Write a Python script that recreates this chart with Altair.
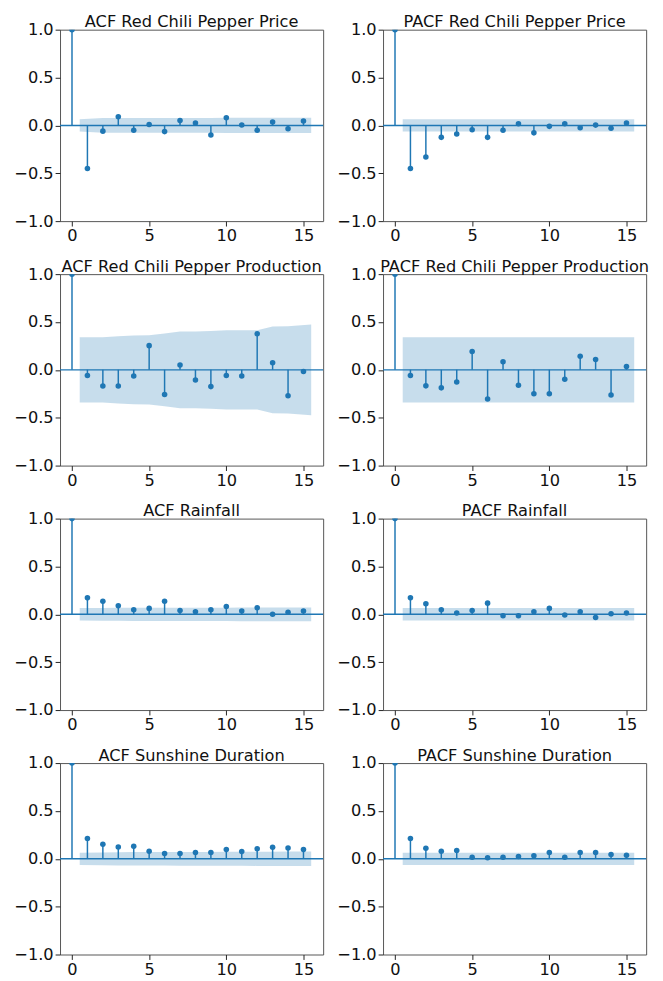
import altair as alt
import pandas as pd

LAGS = list(range(0, 16))
BAND_X = [0.5] + list(range(2, 15)) + [15.5]

TITLES = [
    "ACF Red Chili Pepper Price", "PACF Red Chili Pepper Price",
    "ACF Red Chili Pepper Production", "PACF Red Chili Pepper Production",
    "ACF Rainfall", "PACF Rainfall",
    "ACF Sunshine Duration", "PACF Sunshine Duration",
]

acf_price = [1.0, -0.45, -0.06, 0.09, -0.05, 0.01, -0.065, 0.05, 0.025, -0.10, 0.08, 0.005, -0.05, 0.035, -0.035, 0.045]
acf_price_band = [0.065, 0.077, 0.077, 0.078, 0.078, 0.078, 0.078, 0.078, 0.078, 0.079, 0.079, 0.079, 0.079, 0.079, 0.079]
pacf_price = [1.0, -0.45, -0.33, -0.125, -0.09, -0.045, -0.125, -0.05, 0.017, -0.078, -0.01, 0.017, -0.024, 0.003, -0.03, 0.024]
pacf_price_band = [0.065] * 15

acf_prod = [1.0, -0.058, -0.168, -0.168, -0.065, 0.253, -0.257, 0.051, -0.106, -0.175, -0.058, -0.065, 0.377, 0.075, -0.27, -0.017]
acf_prod_band = [0.34, 0.341, 0.351, 0.36, 0.361, 0.381, 0.401, 0.401, 0.405, 0.413, 0.414, 0.415, 0.453, 0.455, 0.473]
pacf_prod = [1.0, -0.058, -0.167, -0.188, -0.126, 0.191, -0.304, 0.085, -0.16, -0.249, -0.249, -0.099, 0.143, 0.109, -0.263, 0.034]
pacf_prod_band = [0.34] * 15

acf_rain = [1.0, 0.172, 0.137, 0.089, 0.048, 0.062, 0.137, 0.041, 0.027, 0.048, 0.082, 0.034, 0.069, 0.0, 0.021, 0.034]
acf_rain_band = [0.065, 0.067, 0.068, 0.0686, 0.0688, 0.069, 0.070, 0.070, 0.070, 0.070, 0.071, 0.071, 0.071, 0.071, 0.071]
pacf_rain = [1.0, 0.172, 0.11, 0.048, 0.014, 0.041, 0.117, -0.014, -0.014, 0.027, 0.062, -0.007, 0.027, -0.034, 0.007, 0.014]
pacf_rain_band = [0.065] * 15

acf_sun = [1.0, 0.212, 0.151, 0.123, 0.13, 0.079, 0.055, 0.055, 0.065, 0.065, 0.096, 0.075, 0.106, 0.12, 0.113, 0.096]
acf_sun_band = [0.064, 0.067, 0.069, 0.070, 0.071, 0.071, 0.072, 0.072, 0.072, 0.073, 0.073, 0.074, 0.074, 0.075, 0.076]
pacf_sun = [1.0, 0.212, 0.11, 0.079, 0.086, 0.017, 0.01, 0.017, 0.024, 0.031, 0.065, 0.017, 0.065, 0.065, 0.045, 0.038]
pacf_sun_band = [0.064] * 15

SERIES = [
    (acf_price, acf_price_band), (pacf_price, pacf_price_band),
    (acf_prod, acf_prod_band), (pacf_prod, pacf_prod_band),
    (acf_rain, acf_rain_band), (pacf_rain, pacf_rain_band),
    (acf_sun, acf_sun_band), (pacf_sun, pacf_sun_band),
]

BLUE = "#1f77b4"
FONT = "DejaVu Sans"
FS = 16.5
W, H = 268, 195

xscale = alt.Scale(domain=[-0.775, 16.275], nice=False, zero=False)
yscale = alt.Scale(domain=[-1, 1], nice=False)
xaxis = alt.Axis(values=[0, 5, 10, 15], format="d", title=None, grid=False, domain=False,
                 tickColor="#222", tickSize=5, labelPadding=2, labelFontSize=FS,
                 labelFont=FONT, labelColor="#111")
yaxis = alt.Axis(values=[-1, -0.5, 0, 0.5, 1], format=".1f", title=None, grid=False, domain=False,
                 tickColor="#222", tickSize=5, labelPadding=2, labelFontSize=FS,
                 labelFont=FONT, labelColor="#111")


def panel(title, values, band):
    df = pd.DataFrame({"lag": LAGS, "value": values})
    bdf = pd.DataFrame({"bx": BAND_X, "lo": [-b for b in band], "hi": band})
    zdf = pd.DataFrame({"z": [0.0]})
    area = alt.Chart(bdf).mark_area(color=BLUE, opacity=0.25, clip=True).encode(
        x=alt.X("bx:Q", scale=xscale, axis=xaxis),
        y=alt.Y("lo:Q", scale=yscale, axis=yaxis),
        y2="hi:Q",
    )
    zero = alt.Chart(zdf).mark_rule(color=BLUE, strokeWidth=1.5).encode(
        y=alt.Y("z:Q", scale=yscale)
    )
    stems = alt.Chart(df).mark_rule(color=BLUE, strokeWidth=1.5, clip=True).encode(
        x=alt.X("lag:Q", scale=xscale),
        y=alt.Y("value:Q", scale=yscale),
        y2=alt.datum(0),
    )
    pts = alt.Chart(df).mark_circle(color=BLUE, size=32, opacity=1, clip=True).encode(
        x=alt.X("lag:Q", scale=xscale),
        y=alt.Y("value:Q", scale=yscale),
    )
    return alt.layer(area, zero, stems, pts).properties(
        width=W, height=H,
        view=alt.ViewBackground(stroke="#555", strokeWidth=1),
        title=alt.TitleParams(title, fontSize=FS, font=FONT, fontWeight="normal",
                              color="#111", offset=-9),
    )


panels = [panel(t, v, b) for t, (v, b) in zip(TITLES, SERIES)]
rows = [alt.hconcat(panels[i], panels[i + 1], spacing=11) for i in range(0, 8, 2)]
chart = alt.vconcat(*rows, spacing=14).properties(
    padding={"left": 5, "top": -3, "right": 5, "bottom": 0}
).configure(background="white")

chart.save("out.html", embed_options={"renderer": "svg", "actions": False})
